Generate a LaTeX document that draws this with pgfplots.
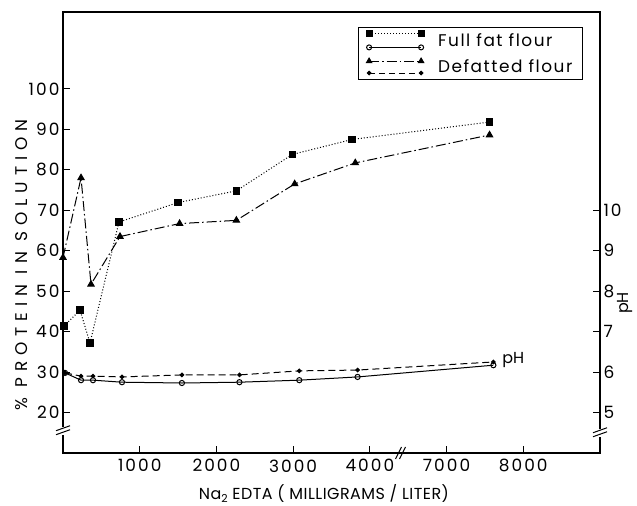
\documentclass[border=0pt]{standalone}
\usepackage{pgfplots}
\pgfplotsset{compat=1.18}
\usepackage{fontspec}
\setmainfont{Poppins}
\newfontfamily\tickfont[LetterSpace=12]{Poppins}
\newfontfamily\labfont[LetterSpace=35]{Poppins}
\newfontfamily\xlabfont[LetterSpace=3]{Poppins}
\newfontfamily\legfont[LetterSpace=9]{Poppins}
\newcommand{\tfs}{\tickfont\fontsize{17}{20}\selectfont}
\newcommand{\lfs}{\labfont\fontsize{17}{20}\selectfont}
\newcommand{\xfs}{\xlabfont\fontsize{16}{19}\selectfont}
\newcommand{\pfs}{\fontsize{16}{19}\selectfont}
\newcommand{\gfs}{\legfont\fontsize{17}{20}\selectfont}
\begin{document}
\begin{tikzpicture}
\path[use as bounding box] (-63bp,-53bp) rectangle (574bp,453bp);
\begin{axis}[
  scale only axis, width=537bp, height=441bp,
  xmin=0, xmax=7000, ymin=10, ymax=119,
  xtick={1000,2000,3000,4000,5000,6000},
  xticklabels={1000,2000,3000,4000,7000,8000},
  ytick={20,30,...,100},
  xtick pos=bottom, ytick pos=left,
  tick align=inside,
  major tick length=7bp,
  axis line style={line width=1.6bp},
  tick style={line width=1bp, black},
  ticklabel style={font=\tfs},
  xticklabel style={yshift=-3bp},
  /pgf/number format/assume math mode=true,
  clip=false,
  legend style={at={(0.968,0.966)}, anchor=north east, draw=black, line width=0.8bp,
    font=\gfs, inner xsep=8bp, inner ysep=3bp, row sep=8bp, column sep=12bp},
  legend cell align=left,
]
\addplot[black, dotted, line width=1bp, mark=square*, mark size=3.3bp, mark options={solid}, forget plot]
 coordinates {(14,41.4)(222,45.3)(352,37.2)(730,67.1)(1500,71.9)(2260,74.8)(2990,83.8)(3770,87.5)(5560,91.8)};
\addplot[black, line width=1bp, dash pattern=on 10bp off 3bp on 1.5bp off 3bp, mark=triangle*, mark size=3.6bp, mark options={solid}, forget plot]
 coordinates {(0,58.3)(235,78.0)(365,51.7)(743,63.5)(1520,66.7)(2260,67.5)(3020,76.5)(3810,81.7)(5560,88.6)};
\addlegendimage{legend image code/.code={
  \draw[black, dotted, line width=1bp, mark=square*, mark size=3bp, mark options={solid}] plot coordinates {(0bp,7bp) (52bp,7bp)};
  \draw[black, line width=1bp, mark=o, mark size=2.5bp, mark options={solid, fill=white}] plot coordinates {(0bp,-7bp) (52bp,-7bp)};
}}
\addlegendentry{Full fat flour}
\addlegendimage{legend image code/.code={
  \draw[black, line width=1bp, dash pattern=on 10bp off 3bp on 1.5bp off 3bp, mark=triangle*, mark size=3bp, mark options={solid}] plot coordinates {(0bp,6bp) (52bp,6bp)};
  \draw[black, line width=1bp, dash pattern=on 6bp off 4bp, mark=*, mark size=1.8bp, mark options={solid}] plot coordinates {(0bp,-6bp) (52bp,-6bp)};
}}
\addlegendentry{Defatted flour}
% axis breaks
\fill[white] ([shift={(-6bp,-6bp)}]axis cs:0,16) rectangle ([shift={(6bp,2bp)}]axis cs:0,16);
\draw[line width=1bp] ([shift={(-7bp,-6bp)}]axis cs:0,16) -- ++(14bp,5bp);
\draw[line width=1bp] ([shift={(-7bp,-2bp)}]axis cs:0,16) -- ++(14bp,5bp);
\draw[line width=1bp] ([shift={(-5bp,-6bp)}]axis cs:4400,10) -- ++(6bp,12bp);
\draw[line width=1bp] ([shift={(-1bp,-6bp)}]axis cs:4400,10) -- ++(6bp,12bp);
\node[font=\lfs, rotate=90] at (rel axis cs:-0.078,0.426) {\% PROTEIN IN SOLUTION};
\node[font=\xfs] at (rel axis cs:0.486,-0.091) {Na\raisebox{-0.35ex}{\fontsize{11}{12}\selectfont 2} EDTA ( MILLIGRAMS / LITER)};
\node[font=\pfs, rotate=90] at (rel axis cs:1.0465,0.34) {pH};
\end{axis}
\begin{axis}[
  scale only axis, width=537bp, height=441bp,
  xmin=0, xmax=7000, ymin=4, ymax=14.9,
  axis x line=none, axis y line*=right,
  ytick={5,6,...,10},
  tick align=inside,
  major tick length=7bp,
  axis line style={line width=1.6bp, -},
  tick style={line width=1bp, black},
  ticklabel style={font=\tfs},
  /pgf/number format/assume math mode=true,
  clip=false,
]
\addplot[black, line width=1bp, mark=o, mark size=2.6bp, mark options={solid, fill=white}]
 coordinates {(26,5.98)(235,5.80)(391,5.80)(769,5.75)(1550,5.73)(2300,5.75)(3080,5.80)(3840,5.88)(5610,6.17)};
\addplot[black, line width=1bp, dash pattern=on 7bp off 4bp, mark=*, mark size=1.8bp, mark options={solid}]
 coordinates {(26,5.98)(235,5.90)(391,5.90)(769,5.88)(1550,5.93)(2300,5.93)(3080,6.03)(3840,6.05)(5610,6.25)};
\node[font=\pfs, anchor=west] at (axis cs:5680,6.3) {pH};
\fill[white] ([shift={(-6bp,-6bp)}]axis cs:7000,4.55) rectangle ([shift={(6bp,2bp)}]axis cs:7000,4.55);
\draw[line width=1bp] ([shift={(-7bp,-6bp)}]axis cs:7000,4.55) -- ++(14bp,5bp);
\draw[line width=1bp] ([shift={(-7bp,-2bp)}]axis cs:7000,4.55) -- ++(14bp,5bp);
\end{axis}
\end{tikzpicture}
\end{document}
